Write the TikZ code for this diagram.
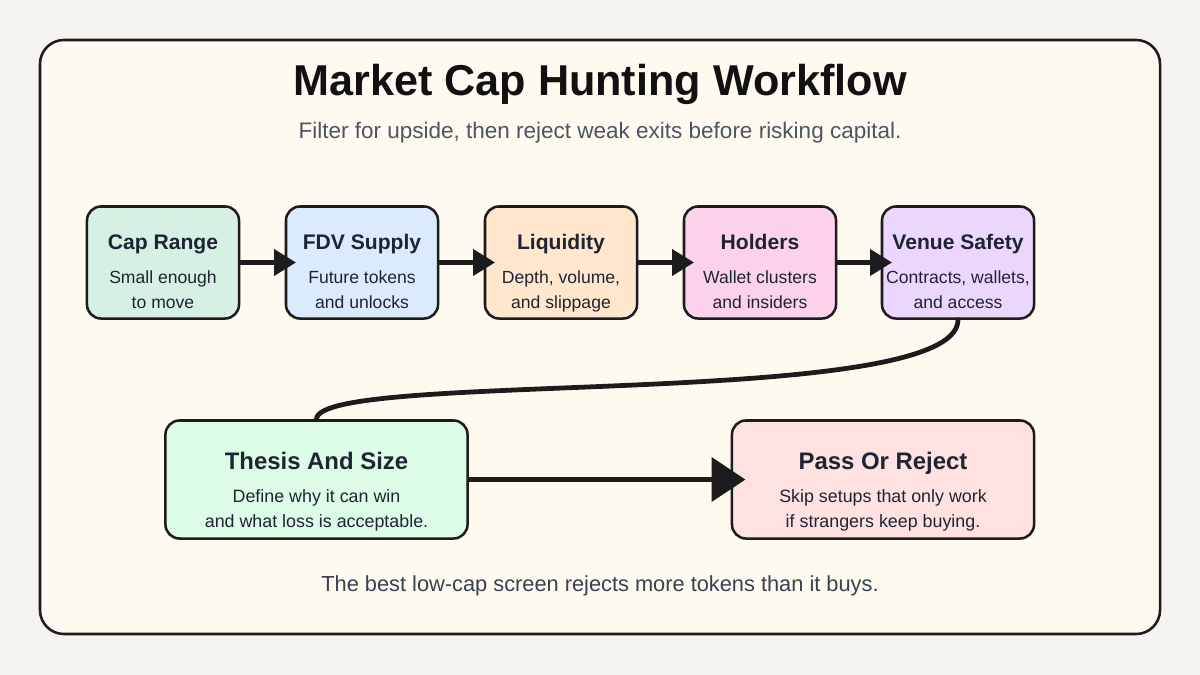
\documentclass[tikz,border=0pt]{standalone}
\usepackage{fontspec}
\setmainfont{Liberation Sans}
\usetikzlibrary{arrows.meta}
\usepackage{xcolor}
\definecolor{pagebg}{HTML}{F5F3EE}
\definecolor{panelbg}{HTML}{FFFAF0}
\definecolor{inkdark}{HTML}{1C1C1E}
\definecolor{titleink}{HTML}{111111}
\definecolor{boxink}{HTML}{1F2433}
\definecolor{subink}{HTML}{4B5563}
\definecolor{footink}{HTML}{374151}
\definecolor{capfill}{HTML}{D6F0E4}
\definecolor{fdvfill}{HTML}{DCEAFE}
\definecolor{liqfill}{HTML}{FFE6CC}
\definecolor{holdfill}{HTML}{FCD2EA}
\definecolor{venuefill}{HTML}{EBD6FE}
\definecolor{thesisfill}{HTML}{DCFCE7}
\definecolor{passfill}{HTML}{FEE2E2}

\newcommand{\stepnote}[3]{\rule{0pt}{26.7pt}{\fontsize{15}{18}\selectfont\bfseries #1}\\[5.9pt]#2\\#3\rule[-3pt]{0pt}{3pt}}
\newcommand{\bignote}[3]{\rule{0pt}{29.7pt}{\fontsize{17}{20}\selectfont\bfseries #1}\\[6.7pt]#2\\#3\rule[-3pt]{0pt}{3pt}}

\tikzset{
  stepbox/.style={draw=inkdark, line width=1.8pt, rounded corners=10pt,
                  minimum width=3.8cm, minimum height=2.8cm, inner sep=0pt,
                  align=center, text=boxink, font=\fontsize{12.5}{17.8}\selectfont},
  bigbox/.style={stepbox, minimum width=7.55cm, minimum height=2.95cm,
                 font=\fontsize{12.7}{17.1}\selectfont},
  flow/.style={draw=inkdark, line width=2.85pt,
               -{Triangle[length=15.6pt,width=18.5pt]}, shorten >=-8pt},
  bigflow/.style={draw=inkdark, line width=3.5pt,
                  -{Triangle[length=24pt,width=31pt]}, shorten >=-10.5pt},
  link/.style={draw=inkdark, line width=3.4pt, line cap=round}
}

\begin{document}
\begin{tikzpicture}[x=0.025cm, y=-0.025cm]
  % page and panel
  \fill[pagebg] (0,0) rectangle (1200,675);
  \useasboundingbox (0,0) rectangle (1200,675);
  \draw[inkdark, fill=panelbg, line width=1.8pt, rounded corners=17pt]
    (40,40) rectangle (1160,634);

  % headings
  \node[anchor=base, text=titleink, font=\fontsize{30.7}{36}\selectfont\bfseries]
    (title) at (600,96) {Market Cap Hunting Workflow};
  \node[anchor=base, text=subink, font=\fontsize{16}{19}\selectfont]
    (subtitle) at (600,139) {Filter for upside, then reject weak exits before risking capital.};

  % first row
  \node[stepbox, fill=capfill] (cap) at (163,262.5)
    {\stepnote{Cap Range}{Small enough}{to move}};
  \node[stepbox, fill=fdvfill] (fdv) at (362,262.5)
    {\stepnote{FDV Supply}{Future tokens}{and unlocks}};
  \node[stepbox, fill=liqfill] (liq) at (561,262.5)
    {\stepnote{Liquidity}{Depth, volume,}{and slippage}};
  \node[stepbox, fill=holdfill] (hold) at (760,262.5)
    {\stepnote{Holders}{Wallet clusters}{and insiders}};
  \node[stepbox, fill=venuefill] (venue) at (958,262.5)
    {\stepnote{Venue Safety}{Contracts, wallets,}{and access}};

  % second row
  \node[bigbox, fill=thesisfill] (thesis) at (316.5,479.5)
    {\bignote{Thesis And Size}{Define why it can win}{and what loss is acceptable.}};
  \node[bigbox, fill=passfill] (pass) at (883,479.5)
    {\bignote{Pass Or Reject}{Skip setups that only work}{if strangers keep buying.}};

  \node[anchor=base, text=footink, font=\fontsize{15.5}{18}\selectfont]
    (footer) at (600,591) {The best low-cap screen rejects more tokens than it buys.};

  % connectors
  \draw[flow] (cap) -- (fdv);
  \draw[flow] (fdv) -- (liq);
  \draw[flow] (liq) -- (hold);
  \draw[flow] (hold) -- (venue);
  \draw[link] (venue.south) .. controls +(0,91) and +(0,-50) .. (thesis.north);
  \draw[bigflow] (thesis) -- (pass);
\end{tikzpicture}
\end{document}
